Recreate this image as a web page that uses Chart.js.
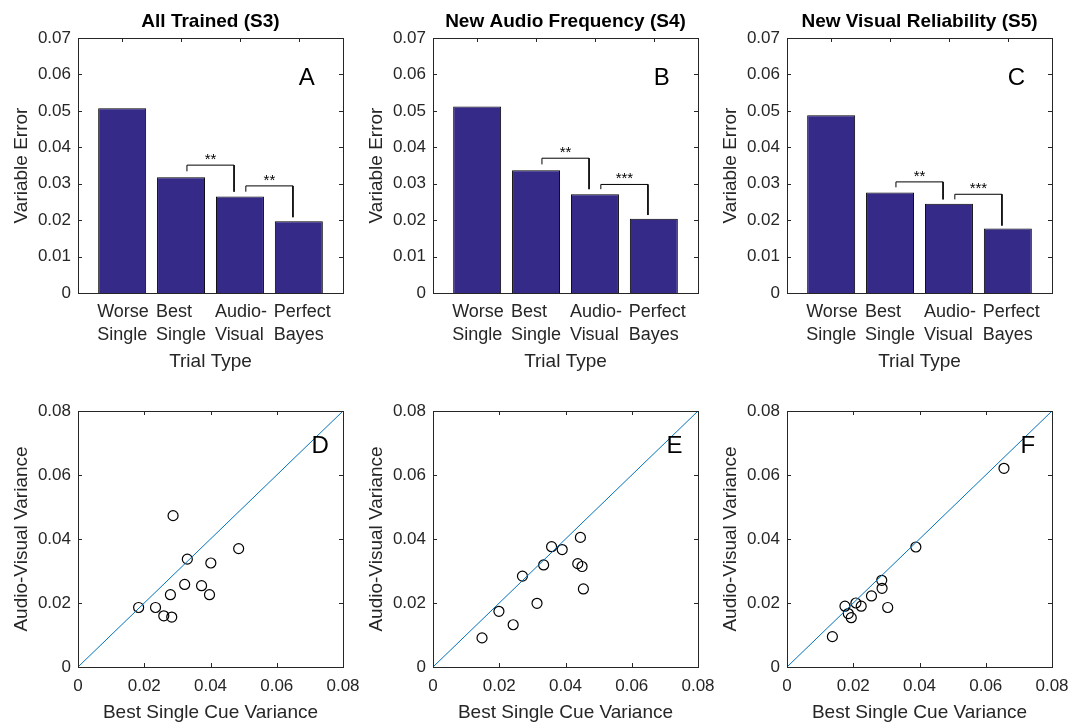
<!DOCTYPE html>
<html>
<head>
<meta charset="utf-8">
<title>Variable error and cue variance by trial type</title>
<script src="https://cdn.jsdelivr.net/npm/chart.js@4.4.1/dist/chart.umd.min.js"></script>
<style>
  body { margin: 0; background: #fff; }
  #figure { position: relative; width: 1084px; height: 723px; overflow: hidden; }
  canvas { position: absolute; }
</style>
</head>
<body>
<div id="figure">
  <canvas id="panelA" width="383" height="380" style="left:0px;top:0px"></canvas>
  <canvas id="panelB" width="383" height="380" style="left:355px;top:0px"></canvas>
  <canvas id="panelC" width="383" height="380" style="left:709px;top:0px"></canvas>
  <canvas id="panelD" width="383" height="343" style="left:0px;top:380px"></canvas>
  <canvas id="panelE" width="383" height="343" style="left:355px;top:380px"></canvas>
  <canvas id="panelF" width="383" height="343" style="left:709px;top:380px"></canvas>
</div>
<script>
// top row: variable error per trial type
const trialTypes = [["Worse", "Single"], ["Best", "Single"], ["Audio-", "Visual"], ["Perfect", "Bayes"]];
const trialPos = [1, 2, 3, 4];
const errorS3 = [0.0507, 0.0318, 0.0265, 0.0197];
const errorS4 = [0.0512, 0.0337, 0.0271, 0.0204];
const errorS5 = [0.0488, 0.0276, 0.0245, 0.0177];

// significance brackets: [xLeft, xRight, yLeftEnd, yTop, yRightEnd]
const bracketsS3 = [[2.1, 2.9, 0.0334, 0.0351, 0.0278], [3.1, 3.9, 0.0278, 0.0294, 0.0208]];
const bracketsS4 = [[2.1, 2.9, 0.0353, 0.0370, 0.0285], [3.1, 3.9, 0.0285, 0.0298, 0.0214]];
const bracketsS5 = [[2.1, 2.9, 0.0290, 0.0305, 0.0257], [3.1, 3.9, 0.0257, 0.0271, 0.0185]];
const starsS3 = ["**", "**"];
const starsS4 = ["**", "***"];
const starsS5 = ["**", "***"];

// bottom row: best single cue variance vs audio-visual variance (one circle per subject)
const bestS3 = [0.0183, 0.0234, 0.0259, 0.0283, 0.0279, 0.0287, 0.0322, 0.0330, 0.0373, 0.0397, 0.0401, 0.0485];
const avS3 = [0.0186, 0.0186, 0.0160, 0.0156, 0.0226, 0.0473, 0.0258, 0.0337, 0.0254, 0.0226, 0.0325, 0.0370];
const bestS4 = [0.0148, 0.0199, 0.0242, 0.0270, 0.0314, 0.0334, 0.0358, 0.0390, 0.0437, 0.0450, 0.0445, 0.0454];
const avS4 = [0.0091, 0.0174, 0.0132, 0.0284, 0.0199, 0.0319, 0.0376, 0.0367, 0.0323, 0.0314, 0.0405, 0.0244];
const bestS5 = [0.0137, 0.0175, 0.0185, 0.0194, 0.0208, 0.0224, 0.0255, 0.0286, 0.0287, 0.0304, 0.0389, 0.0655];
const avS5 = [0.0095, 0.0190, 0.0167, 0.0154, 0.0200, 0.0190, 0.0222, 0.0271, 0.0246, 0.0186, 0.0375, 0.0621];
const identityLine = [0, 0.08];

const FONT = '"Liberation Sans", Arial, Helvetica, sans-serif';
const INK = "#262626";
const BAR_FILL = "#352A87";
Chart.defaults.font.family = FONT;
Chart.defaults.color = INK;

// Matlab-style box with inward ticks on all four sides
const axesBox = {
  id: "axesBox",
  beforeDatasetsDraw(chart) {
    const { ctx, chartArea: a, scales } = chart;
    const len = 4;
    ctx.save();
    ctx.strokeStyle = INK;
    ctx.lineWidth = 1;
    ctx.beginPath();
    scales.x.ticks.forEach((t) => {
      const px = Math.round(scales.x.getPixelForValue(t.value)) + 0.5;
      ctx.moveTo(px, a.bottom);
      ctx.lineTo(px, a.bottom - len);
      ctx.moveTo(px, a.top);
      ctx.lineTo(px, a.top + len);
    });
    scales.y.ticks.forEach((t) => {
      const py = Math.round(scales.y.getPixelForValue(t.value)) + 0.5;
      ctx.moveTo(a.left, py);
      ctx.lineTo(a.left + len, py);
      ctx.moveTo(a.right, py);
      ctx.lineTo(a.right - len, py);
    });
    ctx.stroke();
    ctx.restore();
  },
  afterDatasetsDraw(chart) {
    const { ctx, chartArea: a } = chart;
    ctx.save();
    ctx.strokeStyle = INK;
    ctx.lineWidth = 1;
    ctx.strokeRect(a.left + 0.5, a.top + 0.5, a.right - a.left, a.bottom - a.top);
    ctx.restore();
  },
};

// title, panel letter and significance stars
function panelLabels(title, letter, letterAt, brackets, stars) {
  return {
    id: "panelLabels",
    afterDraw(chart) {
      const { ctx, chartArea: a, scales } = chart;
      ctx.save();
      ctx.fillStyle = "#000";
      if (title) {
        ctx.font = "bold 19px " + FONT;
        ctx.textAlign = "center";
        ctx.textBaseline = "alphabetic";
        ctx.fillText(title, (a.left + a.right) / 2, a.top - 11);
      }
      ctx.font = "24px " + FONT;
      ctx.textAlign = "left";
      ctx.textBaseline = "middle";
      ctx.fillText(letter, scales.x.getPixelForValue(letterAt[0]), scales.y.getPixelForValue(letterAt[1]));
      ctx.font = "15px " + FONT;
      ctx.textAlign = "center";
      ctx.textBaseline = "alphabetic";
      brackets.forEach((b, i) => {
        ctx.fillText(stars[i], scales.x.getPixelForValue((b[0] + b[1]) / 2), scales.y.getPixelForValue(b[3]) - 1);
      });
      ctx.restore();
    },
  };
}

function drawBars(id, title, letter, values, brackets, stars) {
  const datasets = [
    {
      type: "bar",
      data: trialPos.map((x, i) => ({ x: x, y: values[i] })),
      backgroundColor: BAR_FILL,
      borderColor: "#000",
      borderWidth: 1,
      categoryPercentage: 1,
      barPercentage: 0.815,
    },
  ];
  brackets.forEach((b) => {
    datasets.push({
      type: "line",
      data: [
        { x: b[0], y: b[2] },
        { x: b[0], y: b[3] },
        { x: b[1], y: b[3] },
        { x: b[1], y: b[4] },
      ],
      borderColor: "#000",
      borderWidth: 1,
      pointRadius: 0,
      fill: false,
    });
  });

  new Chart(document.getElementById(id), {
    type: "bar",
    data: { datasets: datasets },
    options: {
      responsive: false,
      animation: false,
      events: [],
      layout: { padding: { top: 38, right: 40, left: 0, bottom: 0 } },
      plugins: { legend: { display: false }, tooltip: { enabled: false } },
      scales: {
        x: {
          type: "linear",
          offset: false,
          min: 0.25,
          max: 4.75,
          grid: { display: false, drawTicks: false },
          border: { display: false },
          afterBuildTicks: (s) => {
            s.ticks = trialPos.map((v) => ({ value: v }));
          },
          afterFit: (s) => {
            s.height = 87;
          },
          ticks: {
            autoSkip: false,
            maxRotation: 0,
            minRotation: 0,
            align: "start",
            labelOffset: -25,
            padding: 7.5,
            color: INK,
            font: { size: 18, lineHeight: 1.28 },
            callback: (v) => trialTypes[trialPos.indexOf(v)],
          },
          title: { display: true, text: "Trial Type", color: INK, font: { size: 19 }, padding: { top: 0, bottom: 6.5 } },
        },
        y: {
          min: 0,
          max: 0.07,
          grid: { display: false, drawTicks: false },
          border: { display: false },
          afterFit: (s) => {
            s.width = 78;
          },
          ticks: { stepSize: 0.01, padding: 7, color: INK, font: { size: 17 } },
          title: { display: true, text: "Variable Error", color: INK, font: { size: 19 }, padding: { top: 10.5, bottom: 0 } },
        },
      },
    },
    plugins: [axesBox, panelLabels(title, letter, [4, 0.059], brackets, stars)],
  });
}

function drawScatter(id, letter, best, av) {
  new Chart(document.getElementById(id), {
    type: "scatter",
    data: {
      datasets: [
        {
          type: "line",
          data: identityLine.map((v) => ({ x: v, y: v })),
          borderColor: "#0072BD",
          borderWidth: 1,
          pointRadius: 0,
          fill: false,
        },
        {
          data: best.map((b, i) => ({ x: b, y: av[i] })),
          pointStyle: "circle",
          pointRadius: 5,
          borderColor: "#000",
          borderWidth: 1.2,
          backgroundColor: "rgba(0,0,0,0)",
        },
      ],
    },
    options: {
      responsive: false,
      animation: false,
      events: [],
      layout: { padding: { top: 31, right: 40, left: 0, bottom: 0 } },
      plugins: { legend: { display: false }, tooltip: { enabled: false } },
      scales: {
        x: {
          type: "linear",
          min: 0,
          max: 0.08,
          grid: { display: false, drawTicks: false },
          border: { display: false },
          afterFit: (s) => {
            s.height = 56;
          },
          ticks: { stepSize: 0.02, padding: 9, maxRotation: 0, color: INK, font: { size: 17 } },
          title: { display: true, text: "Best Single Cue Variance", color: INK, font: { size: 19 }, padding: { top: 0, bottom: -1 } },
        },
        y: {
          min: 0,
          max: 0.08,
          grid: { display: false, drawTicks: false },
          border: { display: false },
          afterFit: (s) => {
            s.width = 78;
          },
          ticks: { stepSize: 0.02, padding: 7, color: INK, font: { size: 17 } },
          title: { display: true, text: "Audio-Visual Variance", color: INK, font: { size: 19 }, padding: { top: 10.5, bottom: 0 } },
        },
      },
    },
    plugins: [axesBox, panelLabels(null, letter, [0.0705, 0.069], [], [])],
  });
}

drawBars("panelA", "All Trained (S3)", "A", errorS3, bracketsS3, starsS3);
drawBars("panelB", "New Audio Frequency (S4)", "B", errorS4, bracketsS4, starsS4);
drawBars("panelC", "New Visual Reliability (S5)", "C", errorS5, bracketsS5, starsS5);
drawScatter("panelD", "D", bestS3, avS3);
drawScatter("panelE", "E", bestS4, avS4);
drawScatter("panelF", "F", bestS5, avS5);
</script>
</body>
</html>
